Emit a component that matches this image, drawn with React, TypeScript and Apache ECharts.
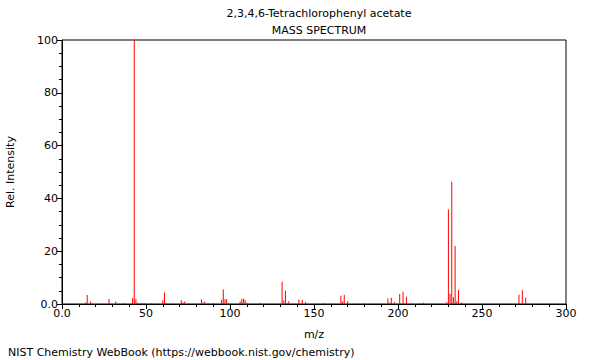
import React, { useEffect, useRef } from "react";
import * as echarts from "echarts";

const titleText = "2,3,4,6-Tetrachlorophenyl acetate";
const subtitleText = "MASS SPECTRUM";
const xName = "m/z";
const yName = "Rel. Intensity";
const footer = "NIST Chemistry WebBook (https://webbook.nist.gov/chemistry)";

const mz = [
  14, 15, 17, 28, 32, 37, 42, 43, 44, 45, 47, 48, 49, 53, 60, 61, 62, 65, 71, 72,
  73, 75, 83, 84, 85, 87, 90, 95, 96, 97, 98, 99, 106, 107, 108, 109, 110, 118,
  131, 132, 133, 134, 135, 141, 143, 145, 156, 166, 167, 168, 170, 180, 194, 195,
  196, 198, 201, 203, 205, 208, 213, 215, 217, 229, 230, 231, 232, 233, 234, 235,
  236, 237, 238, 272, 274, 276,
];
const intensity = [
  0.6, 3.4, 0.9, 1.9, 0.9, 0.4, 2.3, 100, 1.8, 0.5, 0.3, 0.3, 0.4, 0.4, 1.3, 4.4, 0.4, 0.3, 1.4, 0.6,
  0.9, 0.2, 1.8, 0.6, 0.9, 0.3, 0.3, 1.6, 5.5, 1.8, 1.8, 0.4, 0.9, 2.0, 2.0, 1.6, 0.5, 0.5,
  8.4, 1.3, 5.0, 0.3, 1.0, 1.7, 1.5, 0.8, 0.4, 3.1, 0.9, 3.5, 1.0, 0.3, 2.1, 0.5,
  2.4, 0.8, 3.8, 4.6, 2.7, 0.3, 0.3, 0.6, 0.3, 0.7, 35.8, 3.8, 46.3, 2.6, 22.0, 1.0,
  5.3, 0.4, 0.6, 3.5, 5.2, 2.4,
];

const FONT = "DejaVu Sans";

export default function App() {
  const ref = useRef<HTMLDivElement>(null);
  useEffect(() => {
    if (!ref.current) return;
    const chart = echarts.init(ref.current, undefined, { renderer: "svg" });
    const axisLine = { show: true, lineStyle: { color: "#000", width: 1 } };
    const axisTick = { show: true, length: 5, lineStyle: { color: "#000" } };
    const axisLabel = {
      color: "#000",
      fontSize: 11,
      fontFamily: FONT,
      margin: 4,
      formatter: (v: number) => (v === 0 ? "0.0" : String(v)),
    };
    const nameTextStyle = { color: "#000", fontSize: 11, fontFamily: FONT };
    const tStyle = { fontSize: 11, fontWeight: "normal", color: "#000", fontFamily: FONT };
    chart.setOption({
      animation: false,
      backgroundColor: "#fff",
      title: [
        { text: titleText, left: 314, top: 3, textAlign: "center", textStyle: tStyle },
        { text: subtitleText, left: 314, top: 20, textAlign: "center", textStyle: tStyle },
        { text: footer, left: 3, top: 342, textStyle: tStyle },
      ],
      grid: {
        left: 62,
        right: 34,
        top: 40,
        bottom: 56,
        show: true,
        borderColor: "#000",
        borderWidth: 1,
        backgroundColor: "transparent",
        containLabel: false,
        outerBoundsMode: "none",
      },
      xAxis: {
        type: "value",
        min: 0,
        max: 300,
        interval: 50,
        minorTick: { show: true, splitNumber: 5, length: 3, lineStyle: { color: "#000" } },
        name: xName,
        nameLocation: "middle",
        nameGap: 25,
        axisLine,
        axisTick,
        splitLine: { show: false },
        axisLabel,
        nameTextStyle,
      },
      yAxis: {
        type: "value",
        min: 0,
        max: 100,
        interval: 20,
        minorTick: { show: true, splitNumber: 4, length: 3, lineStyle: { color: "#000" } },
        name: yName,
        nameLocation: "middle",
        nameGap: 46,
        axisLine,
        axisTick,
        splitLine: { show: false },
        axisLabel,
        nameTextStyle,
      },
      series: [
        {
          type: "bar",
          barWidth: 1,
          itemStyle: { color: "#ff0000" },
          data: mz.map((m, i) => [m, intensity[i]]),
        },
      ],
    });
    return () => chart.dispose();
  }, []);
  return <div ref={ref} style={{ width: 600, height: 360, position: "fixed", left: 0, top: 0 }} />;
}
